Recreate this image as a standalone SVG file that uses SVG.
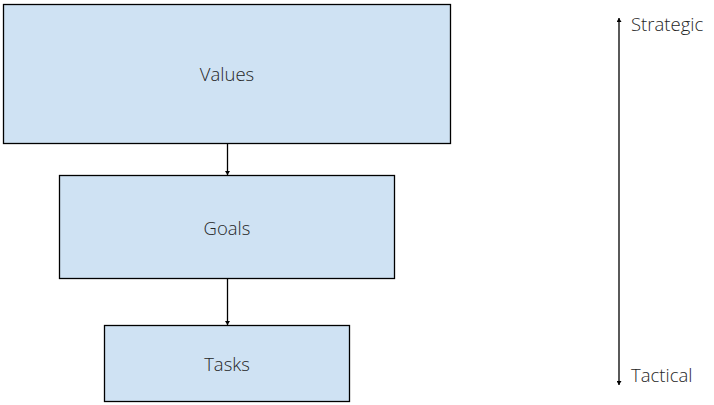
<svg xmlns="http://www.w3.org/2000/svg" width="714" height="405" viewBox="0 0 714 405">
<style>
.box{fill:#cfe2f3;stroke:#000;stroke-width:1.3}
.lbl{font-family:"Open Sans",sans-serif;font-weight:300;font-size:18.5px;fill:#262626;}
.conn{stroke:#000;stroke-width:1.3;fill:none}
</style>
<defs>
<marker id="ah" markerWidth="4" markerHeight="5" refX="4" refY="2.5" orient="auto" markerUnits="userSpaceOnUse">
<path d="M0,0 L4,2.5 L0,5 z" fill="#000"/>
</marker>
</defs>
<g id="values"><rect class="box" x="3.5" y="4.5" width="447" height="139"/><text class="lbl" x="227" y="81" text-anchor="middle">Values</text></g>
<g id="goals"><rect class="box" x="59.5" y="175.5" width="335" height="103"/><text class="lbl" x="227" y="235" text-anchor="middle">Goals</text></g>
<g id="tasks"><rect class="box" x="104.5" y="325.5" width="245" height="76"/><text class="lbl" x="227" y="371" text-anchor="middle">Tasks</text></g>
<g id="scale"><text class="lbl" x="631" y="31">Strategic</text><text class="lbl" x="631" y="382">Tactical</text></g>
<g id="connectors">
<line class="conn" x1="227.5" y1="144" x2="227.5" y2="175" marker-end="url(#ah)"/>
<line class="conn" x1="227.5" y1="279" x2="227.5" y2="325" marker-end="url(#ah)"/>
<line class="conn" x1="619" y1="200" x2="619" y2="18" marker-end="url(#ah)"/>
<line class="conn" x1="619" y1="200" x2="619" y2="385" marker-end="url(#ah)"/>
</g>
</svg>
